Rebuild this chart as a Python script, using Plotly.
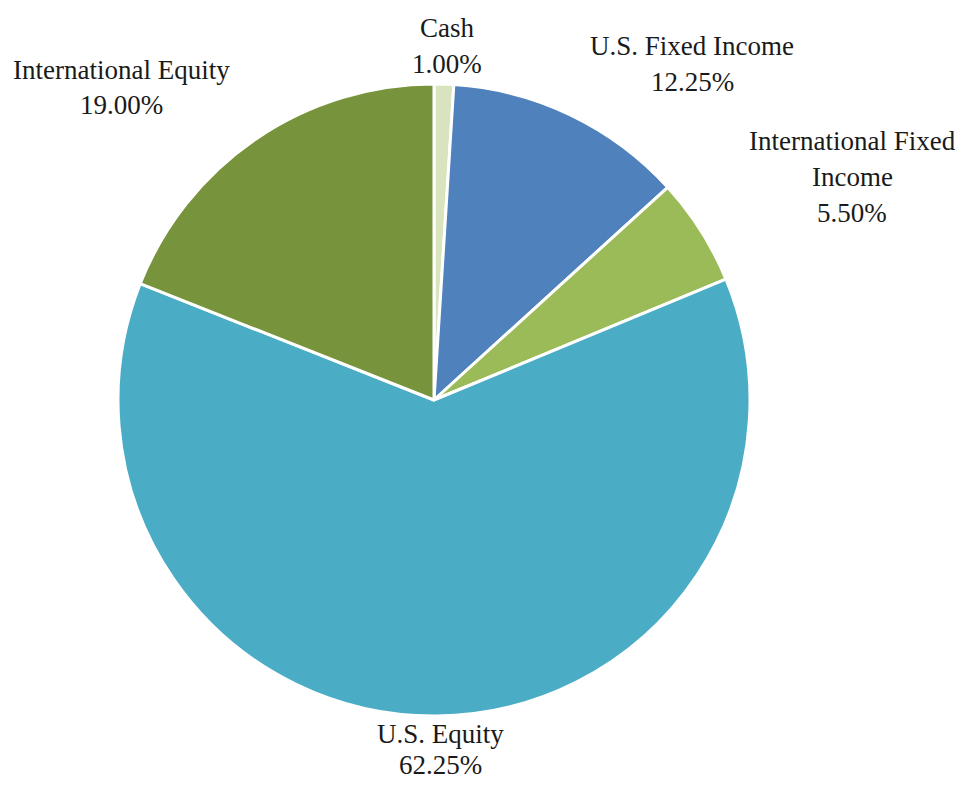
import plotly.graph_objects as go

categories = ["Cash", "U.S. Fixed Income", "International Fixed Income", "U.S. Equity", "International Equity"]
values = [1.00, 12.25, 5.50, 62.25, 19.00]
colors = ["#d7e4bd", "#4f81bd", "#9bbb59", "#4bacc6", "#77933c"]

# label line layout (text lines per category)
label_lines = [["Cash"], ["U.S. Fixed Income"], ["International Fixed", "Income"], ["U.S. Equity"], ["International Equity"]]
label_pos = [(447, 28), (692, 46), (852, 141), (440, 734), (122, 70)]  # pixel centre of first line
line_gaps = [36, 36, 36, 31, 35]

W, H = 961, 785
cx, cy, r = 434, 400, 316

fig = go.Figure(go.Pie(
    labels=categories, values=values, sort=False, direction="clockwise", rotation=0,
    marker=dict(colors=colors, line=dict(color="white", width=3)),
    textinfo="none", hoverinfo="label+percent", showlegend=False,
    domain=dict(x=[(cx - r) / W, (cx + r) / W], y=[1 - (cy + r) / H, 1 - (cy - r) / H]),
))

annotations = []
for lines, val, (px, py), gap in zip(label_lines, values, label_pos, line_gaps):
    all_lines = lines + [f"{val:.2f}%"]
    for i, t in enumerate(all_lines):
        annotations.append(dict(
            x=px / W, y=1 - (py + i * gap) / H, xref="paper", yref="paper",
            text=t, showarrow=False, xanchor="center", yanchor="middle", borderpad=0,
            font=dict(family="Liberation Serif", size=27, color="#1a1a1a"),
        ))

fig.update_layout(
    width=W, height=H, margin=dict(l=0, r=0, t=0, b=0),
    paper_bgcolor="white", plot_bgcolor="white",
    annotations=annotations,
)
fig.write_html("out.html")
